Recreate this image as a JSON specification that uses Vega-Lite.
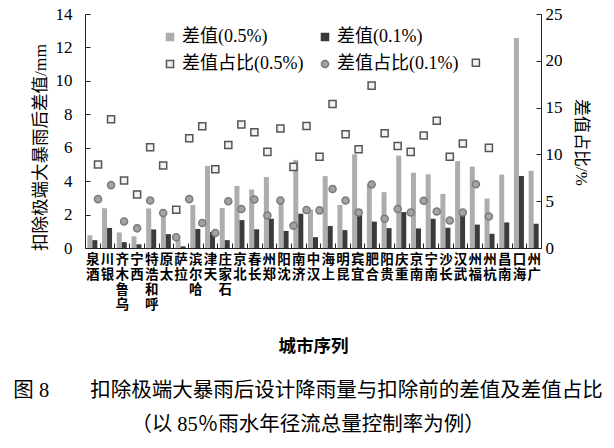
{
  "$schema": "https://vega.github.io/schema/vega-lite/v6.json",
  "autosize": {"type": "none"},
  "width": 456,
  "height": 234,
  "padding": {"left": 85, "top": 14, "right": 73, "bottom": 200},
  "background": "white",
  "title": {
    "text": ["图 8　　扣除极端大暴雨后设计降雨量与扣除前的差值及差值占比", "（以 85％雨水年径流总量控制率为例）"],
    "orient": "bottom",
    "anchor": "middle",
    "frame": "group",
    "dx": -5,
    "offset": 26,
    "fontSize": 20.5,
    "fontWeight": "normal",
    "lineHeight": 34,
    "color": "#000",
    "font": "Liberation Serif, Noto Sans CJK SC"
  },
  "data": {
    "values": [
      {"idx": 1, "city": "酒泉", "d05": 0.76, "d01": 0.47, "p05": 8.92, "p01": 5.22},
      {"idx": 2, "city": "银川", "d05": 2.38, "d01": 1.2, "p05": 13.75, "p01": 6.72},
      {"idx": 3, "city": "乌鲁木齐", "d05": 0.93, "d01": 0.35, "p05": 7.22, "p01": 2.84},
      {"idx": 4, "city": "西宁", "d05": 0.7, "d01": 0.22, "p05": 5.72, "p01": 2.1},
      {"idx": 5, "city": "呼和浩特", "d05": 2.37, "d01": 1.11, "p05": 10.77, "p01": 5.07},
      {"idx": 6, "city": "太原", "d05": 1.97, "d01": 0.83, "p05": 8.82, "p01": 3.73},
      {"idx": 7, "city": "拉萨", "d05": 0.48, "d01": 0.1, "p05": 4.08, "p01": 1.14},
      {"idx": 8, "city": "哈尔滨", "d05": 2.57, "d01": 1.14, "p05": 11.73, "p01": 5.22},
      {"idx": 9, "city": "天津", "d05": 4.91, "d01": 0.96, "p05": 13.0, "p01": 2.67},
      {"idx": 10, "city": "石家庄", "d05": 2.4, "d01": 0.47, "p05": 8.42, "p01": 1.6},
      {"idx": 11, "city": "北京", "d05": 3.71, "d01": 1.67, "p05": 11.01, "p01": 5.0},
      {"idx": 12, "city": "长春", "d05": 3.5, "d01": 1.12, "p05": 13.19, "p01": 4.16},
      {"idx": 13, "city": "郑州", "d05": 4.25, "d01": 1.75, "p05": 12.37, "p01": 5.18},
      {"idx": 14, "city": "沈阳", "d05": 2.9, "d01": 1.02, "p05": 10.27, "p01": 3.47},
      {"idx": 15, "city": "济南", "d05": 5.27, "d01": 2.05, "p05": 12.76, "p01": 5.07},
      {"idx": 16, "city": "汉中", "d05": 2.3, "d01": 0.65, "p05": 8.67, "p01": 2.38},
      {"idx": 17, "city": "上海", "d05": 4.3, "d01": 1.32, "p05": 13.04, "p01": 4.06},
      {"idx": 18, "city": "昆明", "d05": 2.57, "d01": 1.07, "p05": 9.74, "p01": 4.02},
      {"idx": 19, "city": "宜宾", "d05": 5.61, "d01": 2.31, "p05": 15.39, "p01": 6.3},
      {"idx": 20, "city": "合肥", "d05": 3.82, "d01": 1.58, "p05": 12.15, "p01": 5.07},
      {"idx": 21, "city": "贵阳", "d05": 3.34, "d01": 1.19, "p05": 10.55, "p01": 3.8},
      {"idx": 22, "city": "重庆", "d05": 5.53, "d01": 2.15, "p05": 17.35, "p01": 6.79},
      {"idx": 23, "city": "南京", "d05": 4.5, "d01": 1.17, "p05": 12.26, "p01": 3.12},
      {"idx": 24, "city": "南宁", "d05": 4.41, "d01": 1.75, "p05": 10.9, "p01": 4.16},
      {"idx": 25, "city": "长沙", "d05": 3.24, "d01": 1.21, "p05": 10.27, "p01": 3.8},
      {"idx": 26, "city": "武汉", "d05": 5.2, "d01": 2.04, "p05": 12.01, "p01": 5.05},
      {"idx": 27, "city": "福州", "d05": 4.87, "d01": 1.4, "p05": 13.6, "p01": 3.9},
      {"idx": 28, "city": "杭州", "d05": 2.96, "d01": 0.85, "p05": 9.74, "p01": 2.94},
      {"idx": 29, "city": "南昌", "d05": 4.39, "d01": 1.53, "p05": 11.16, "p01": 3.8},
      {"idx": 30, "city": "海口", "d05": 12.57, "d01": 4.31, "p05": 19.8, "p01": 6.82},
      {"idx": 31, "city": "广州", "d05": 4.62, "d01": 1.45, "p05": 10.7, "p01": 3.37}
    ]
  },
  "layer": [
    {
      "transform": [{"fold": ["d05", "d01"], "as": ["series", "value"]}],
      "mark": {"type": "bar", "strokeWidth": 0},
      "encoding": {
        "x": {
          "field": "city", "type": "nominal", "sort": null,
          "scale": {"paddingInner": 0, "paddingOuter": 0},
          "axis": {
            "title": "城市序列",
            "titleFontSize": 17.5, "titleFontWeight": "bold", "titleFont": "Liberation Serif, Noto Sans CJK SC",
            "titlePadding": 27,
            "labelExpr": "reverse(split(datum.label, ''))",
            "labelAngle": 0, "labelBaseline": "top", "labelAlign": "center",
            "labelFontSize": 13.5, "labelLineHeight": 15, "labelPadding": 9,
            "labelFont": "Noto Sans CJK SC", "labelFontWeight": "bold", "labelOverlap": false, "labelBound": false,
            "tickBand": "extent", "tickSize": -5
          }
        },
        "xOffset": {"field": "series", "type": "nominal", "sort": ["d05", "d01"], "scale": {"paddingOuter": 0.47, "paddingInner": 0}},
        "y": {
          "field": "value", "type": "quantitative",
          "scale": {"domain": [0, 14], "nice": false},
          "axis": {
            "title": "扣除极端大暴雨后差值/mm",
            "values": [0, 2, 4, 6, 8, 10, 12, 14],
            "titleFontSize": 17.5, "titleFontWeight": "normal", "titleFont": "Liberation Serif, Noto Sans CJK SC",
            "titleX": -45, "titleY": 133, "titleBaseline": "middle", "titleAlign": "center",
            "labelFontSize": 17, "labelPadding": 18, "tickSize": -5, "grid": false
          }
        },
        "fill": {
          "field": "series", "type": "nominal",
          "scale": {"domain": ["d05", "d01", "p05", "p01"], "range": ["#adadad", "#3b3b3b", "#f2f2f2", "#a3a3a3"]},
          "legend": {
            "title": null, "orient": "none", "legendX": 76, "legendY": 14, "columns": 2, "direction": "horizontal",
            "labelExpr": "datum.label == 'd05' ? '差值(0.5%)' : datum.label == 'd01' ? '差值(0.1%)' : datum.label == 'p05' ? '差值占比(0.5%)' : '差值占比(0.1%)'",
            "labelFontSize": 18, "labelFont": "Liberation Serif, Noto Sans CJK SC", "labelColor": "#000",
            "symbolSize": 50, "symbolStrokeWidth": 1.5, "labelOffset": 3,
            "columnPadding": 12, "rowPadding": 9, "padding": 0
          }
        },
        "stroke": {
          "field": "series", "type": "nominal",
          "scale": {"domain": ["d05", "d01", "p05", "p01"], "range": ["#adadad", "#3b3b3b", "#555555", "#7a7a7a"]}
        }
      }
    },
    {
      "transform": [{"fold": ["p05", "p01"], "as": ["series", "value"]}],
      "mark": {"type": "point", "strokeWidth": 1.5, "size": 50, "opacity": 1, "filled": true},
      "encoding": {
        "x": {"field": "idx", "type": "quantitative", "scale": {"domain": [0, 35], "nice": false, "zero": true}, "axis": null},
        "y": {
          "field": "value", "type": "quantitative",
          "scale": {"domain": [0, 25], "nice": false},
          "axis": {
            "orient": "right", "title": "差值占比/%",
            "values": [0, 5, 10, 15, 20, 25],
            "titleFontSize": 17, "titleFontWeight": "normal", "titleFont": "Liberation Serif, Noto Sans CJK SC",
            "titleX": 39, "titleY": 128, "titleBaseline": "middle", "titleAlign": "center",
            "labelFontSize": 17, "labelPadding": 9, "tickSize": -5, "grid": false
          }
        },
        "fill": {"field": "series", "type": "nominal"},
        "stroke": {"field": "series", "type": "nominal"},
        "shape": {
          "field": "series", "type": "nominal",
          "scale": {"domain": ["d05", "d01", "p05", "p01"], "range": ["square", "square", "square", "circle"]}
        }
      }
    }
  ],
  "resolve": {"scale": {"x": "independent", "y": "independent"}, "axis": {"x": "independent", "y": "independent"}},
  "config": {
    "font": "Liberation Serif, Noto Sans CJK SC",
    "view": {"stroke": null},
    "axis": {"domainColor": "#222", "tickColor": "#222", "labelColor": "#000", "titleColor": "#000", "labelFont": "Liberation Serif, Noto Sans CJK SC"}
  }
}
